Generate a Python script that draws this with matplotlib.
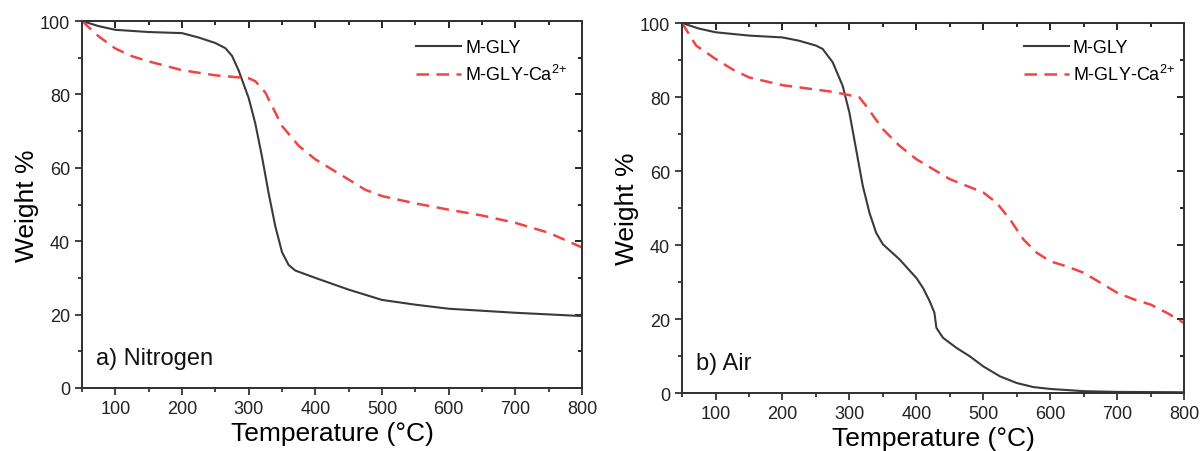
import numpy as np
import matplotlib.pyplot as plt
from matplotlib.ticker import MultipleLocator

plt.rcParams['font.family'] = ['Liberation Sans', 'DejaVu Sans']
plt.rcParams['mathtext.default'] = 'regular'

# ===== NITROGEN =====
n2_gly_T = [50, 75, 100, 150, 200, 225, 250, 265, 275, 285, 290, 300, 310, 320, 330, 340, 350,
            360, 370, 385, 400, 450, 500, 550, 600, 700, 800]
n2_gly_W = [100, 98.6, 97.6, 97.0, 96.7, 95.5, 94.0, 92.6, 90.5, 86.5, 84.0, 79.0, 72.0, 63.0,
            53.0, 44.0, 37.0, 33.5, 32.0, 31.0, 30.0, 26.8, 24.0, 22.7, 21.6, 20.5, 19.6]

n2_ca_T = [50, 75, 100, 125, 150, 200, 250, 300, 310, 325, 350, 375, 400, 450, 475, 500, 550,
           600, 650, 700, 750, 800]
n2_ca_W = [100, 95.8, 92.5, 90.4, 89.0, 86.6, 85.2, 84.4, 83.6, 80.5, 71.4, 66.0, 62.3, 56.8,
           54.0, 52.3, 50.3, 48.6, 47.0, 45.0, 42.3, 38.3]

# ===== AIR =====
air_gly_T = [50, 75, 100, 150, 200, 225, 250, 260, 275, 290, 300, 310, 320, 330, 340, 350, 375,
             400, 410, 420, 427, 430, 440, 460, 480, 500, 525, 550, 575, 600, 650, 700, 800]
air_gly_W = [100, 98.5, 97.5, 96.6, 96.1, 95.2, 93.9, 93.0, 89.4, 83.0, 75.8, 65.9, 56.0, 48.7,
             43.3, 40.2, 36.1, 31.1, 28.4, 24.8, 21.7, 17.6, 14.9, 12.2, 9.9, 7.2, 4.5, 2.7, 1.6,
             1.1, 0.5, 0.3, 0.2]

air_ca_T = [50, 71, 100, 125, 150, 200, 250, 275, 300, 315, 325, 350, 375, 400, 425, 450, 475,
            500, 520, 540, 560, 580, 600, 625, 650, 675, 700, 725, 750, 775, 800]
air_ca_W = [100, 93.9, 90.3, 87.5, 85.3, 83.2, 82.0, 81.4, 80.5, 79.9, 77.6, 71.3, 66.8, 63.2,
            60.5, 57.8, 56.0, 54.2, 51.4, 46.9, 41.5, 37.9, 35.6, 34.2, 32.5, 29.8, 27.1, 25.3,
            23.9, 21.6, 18.9]

panels = [
    ([0.0683, 0.1394, 0.4163, 0.8119], n2_gly_T, n2_gly_W, n2_ca_T, n2_ca_W, 'a) Nitrogen', 0.636, 0.995),
    ([0.5679, 0.1283, 0.4180, 0.8186], air_gly_T, air_gly_W, air_ca_T, air_ca_W, 'b) Air', 0.649, 1.0),
]

fig = plt.figure(figsize=(12.01, 4.52), dpi=100)


def set_ticks(a):
    a.set_xlim(50, 800)
    a.set_ylim(0, 100)
    a.xaxis.set_major_locator(MultipleLocator(100))
    a.xaxis.set_minor_locator(MultipleLocator(50))
    a.yaxis.set_major_locator(MultipleLocator(20))
    a.yaxis.set_minor_locator(MultipleLocator(10))


for rect, gT, gW, cT, cW, tag, legx, legy in panels:
    # frame with inward ticks on top/right
    frame = fig.add_axes(rect)
    set_ticks(frame)
    frame.tick_params(which='both', direction='in', bottom=False, left=False, top=True,
                      right=True, labelbottom=False, labelleft=False, width=1.2)
    frame.tick_params(which='major', length=5)
    frame.tick_params(which='minor', length=3)
    frame.patch.set_visible(False)

    ax = fig.add_axes(rect)
    ax.patch.set_visible(False)
    ax.plot(gT, gW, color='#3a3a3a', lw=1.5, label='M-GLY')
    ax.plot(cT, cW, color='#f04545', lw=1.8, ls=(0, (5, 3)), label='M-GLY-Ca$^{2{+}}$')
    set_ticks(ax)
    ax.tick_params(which='both', direction='out', labelsize=13, width=1.2, colors='#222222')
    ax.tick_params(which='major', length=5)
    ax.tick_params(which='minor', length=3)

    for a in [ax, frame]:
        for s in a.spines.values():
            s.set_linewidth(1.3)
            s.set_color('#333333')

    ax.set_xlabel('Temperature (°C)', fontsize=19, labelpad=3)
    ax.set_ylabel('Weight %', fontsize=19, labelpad=1)
    ax.text(0.027, 0.065, tag, transform=ax.transAxes, fontsize=17, color='#111111')
    ax.legend(loc='upper left', bbox_to_anchor=(legx, legy), frameon=False, fontsize=13,
              handlelength=2.5, handletextpad=0.2, labelspacing=0.45)

fig.savefig('out.png', dpi=100)
